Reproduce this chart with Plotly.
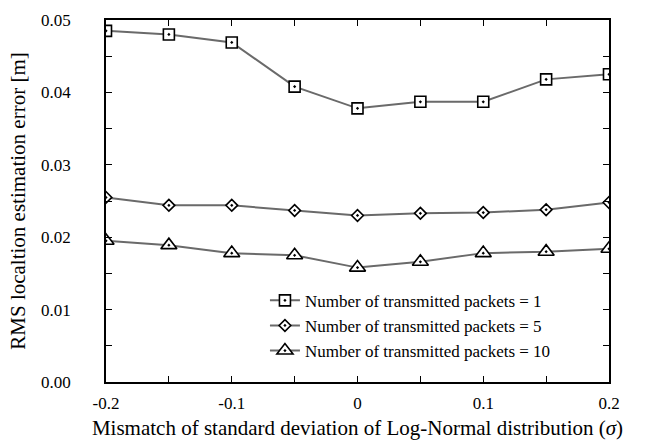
import plotly.graph_objects as go

# Mismatch of the log-normal standard deviation
sigma_mismatch = [-0.2, -0.15, -0.1, -0.05, 0.0, 0.05, 0.1, 0.15, 0.2]

# RMS location estimation error [m] for each packet count
rms_packets_1 = [0.0485, 0.0480, 0.0469, 0.0408, 0.0378, 0.0387, 0.0387, 0.0418, 0.0425]
rms_packets_5 = [0.0255, 0.0244, 0.0244, 0.0237, 0.0230, 0.0233, 0.0234, 0.0238, 0.0248]
rms_packets_10 = [0.0195, 0.0189, 0.0178, 0.0175, 0.0158, 0.0166, 0.0178, 0.0180, 0.0184]

series_names = [
    "Number of transmitted packets = 1",
    "Number of transmitted packets = 5",
    "Number of transmitted packets = 10",
]

x_tick_vals = [-0.2, -0.1, 0.0, 0.1, 0.2]
x_tick_text = ["-0.2", "-0.1", "0", "0.1", "0.2"]
y_tick_vals = [0.0, 0.01, 0.02, 0.03, 0.04, 0.05]
y_tick_text = ["0.00", "0.01", "0.02", "0.03", "0.04", "0.05"]

TITLE_FONT = "Times New Roman"
TEXT_FONT = "serif"
LINE_COLOR = "#6a6a6a"

fig = go.Figure()
for ys, name, sym, size in [
    (rms_packets_1, series_names[0], "square-dot", 11),
    (rms_packets_5, series_names[1], "diamond-dot", 9),
    (rms_packets_10, series_names[2], "triangle-up-dot", 14),
]:
    fig.add_trace(go.Scatter(
        x=sigma_mismatch, y=ys, name=name, mode="lines+markers",
        line=dict(color=LINE_COLOR, width=2),
        marker=dict(symbol=sym, size=size, color="white",
                    line=dict(color="black", width=1.6)),
    ))

axis_common = dict(
    showline=True, linecolor="black", linewidth=1.5, mirror="ticks",
    ticks="inside", tickcolor="black", ticklen=6, tickwidth=1.2,
    showgrid=False, zeroline=False, automargin=False,
    tickfont=dict(family=TEXT_FONT, size=17),
)

fig.update_xaxes(
    range=[-0.2, 0.2], tickvals=x_tick_vals, ticktext=x_tick_text,
    ticklabelstandoff=5,
    minor=dict(dtick=0.05, tick0=0, ticks="inside", ticklen=6,
               tickcolor="black", tickwidth=1.2, showgrid=False),
    title=dict(text="Mismatch of standard deviation of Log-Normal distribution (<i>σ</i>)",
               font=dict(family=TITLE_FONT, size=21), standoff=8),
    **axis_common,
)
fig.update_yaxes(
    range=[0, 0.05], tickvals=y_tick_vals, ticktext=y_tick_text,
    ticklabelstandoff=30,
    minor=dict(dtick=0.005, tick0=0, ticks="inside", ticklen=6,
               tickcolor="black", tickwidth=1.2, showgrid=False),
    title=dict(text="RMS localtion estimation error [m]",
               font=dict(family=TITLE_FONT, size=21), standoff=10),
    **axis_common,
)

fig.update_layout(
    width=646, height=448,
    margin=dict(l=106, r=37, t=20, b=66),
    paper_bgcolor="white", plot_bgcolor="white",
    font=dict(family=TEXT_FONT, size=17, color="black"),
    showlegend=True,
    legend=dict(
        x=0.316, y=0.274, xanchor="left", yanchor="top",
        bgcolor="rgba(0,0,0,0)", borderwidth=0,
        font=dict(family=TEXT_FONT, size=17),
        tracegroupgap=0, itemwidth=30,
    ),
)

fig.write_html("out.html")
